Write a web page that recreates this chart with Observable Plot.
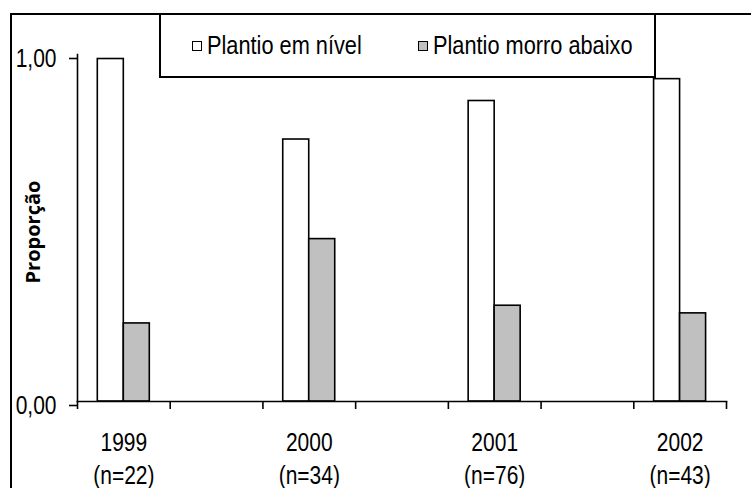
<!DOCTYPE html>
<html>
<head>
<meta charset="utf-8">
<script src="https://cdn.jsdelivr.net/npm/d3@7"></script>
<script src="https://cdn.jsdelivr.net/npm/@observablehq/plot@0.6"></script>
<style>
  html, body { margin: 0; padding: 0; background: #fff; }
  #wrap { position: relative; width: 751px; height: 488px; overflow: hidden; }
  #frame { position: absolute; left: 10px; top: 13px; width: 800px; height: 520px;
           border-left: 2px solid #000; border-top: 2px solid #000; pointer-events: none; }
  #legend { position: absolute; left: 159px; top: 13px; width: 493px; height: 61px;
            border: 2px solid #000; background: #fff; box-sizing: content-box;
            font-family: "Liberation Sans", Arial, sans-serif; font-size: 25px; }
  .item { position: absolute; top: 0; height: 61px; display: flex; align-items: center; }
  .sw { width: 8px; height: 8px; border: 1.5px solid #000; margin-right: 5px; }
  .lt { display: inline-block; transform: scaleX(0.87); transform-origin: left center; white-space: nowrap; }
  #chart { position: absolute; left: 0; top: 0; }
</style>
</head>
<body>
<div id="wrap">
  <div id="chart"></div>
  <div id="frame"></div>
  <div id="legend"></div>
</div>
<script>
const years = ["1999", "2000", "2001", "2002"];
const sampleSizes = [22, 34, 76, 43];
const plantioNivel = [0.987, 0.755, 0.866, 0.929];
const plantioMorro = [0.225, 0.468, 0.276, 0.254];
const seriesNames = ["Plantio em nível", "Plantio morro abaixo"];
const seriesFills = ["#ffffff", "#c0c0c0"];
const yTicks = [0, 1];

const data = years.map((year, i) => ({year, n: sampleSizes[i], nivel: plantioNivel[i], morro: plantioMorro[i]}));
// x domain: each year followed by an empty slot (as in the original)
const xDomain = years.flatMap((y, i) => i < years.length - 1 ? [y, "gap" + i] : [y]);

const width = 751, height = 488;
const marginLeft = 77, marginRight = 25, marginTop = 54, marginBottom = 87;
const bw = (width - marginLeft - marginRight) / xDomain.length;
const barW = 26;
const off = 20.3;

const font = '"Liberation Sans", Arial, sans-serif';
const nByYear = new Map(data.map(d => [d.year, d.n]));

const chart = Plot.plot({
  width, height, marginLeft, marginRight, marginTop, marginBottom,
  style: {fontFamily: font, fontSize: "25px", color: "#000", background: "transparent"},
  x: {type: "band", domain: xDomain, padding: 0, round: false, axis: null},
  y: {domain: [0, 1], axis: null},
  marks: [
    Plot.barY(data, {x: "year", y: "nivel", fill: seriesFills[0], stroke: "#000", strokeWidth: 1.6,
      insetLeft: off, insetRight: bw - off - barW}),
    Plot.barY(data, {x: "year", y: "morro", fill: seriesFills[1], stroke: "#000", strokeWidth: 1.6,
      insetLeft: off + barW, insetRight: bw - off - 2 * barW}),
    Plot.frame({anchor: "left", stroke: "#000", strokeWidth: 1.6}),
    Plot.frame({anchor: "bottom", stroke: "#000", strokeWidth: 1.6}),
    Plot.axisY({ticks: yTicks, tickSize: 8, tickPadding: 13, strokeWidth: 1.6, label: null,
      tickFormat: d => d.toFixed(2).replace(".", ","), dy: 4, fontSize: 25}),
    Plot.axisX({ticks: xDomain, tickSize: 8, tickFormat: () => "", dx: -bw / 2, strokeWidth: 1.6, label: null}),
    Plot.axisX({ticks: [xDomain[xDomain.length - 1]], tickSize: 8, tickFormat: () => "", dx: bw / 2, strokeWidth: 1.6, label: null}),
    Plot.axisX({ticks: years, tickSize: 0, tickPadding: 26, lineHeight: 1.32, fontSize: 25, label: null,
      tickFormat: d => `${d}\n(n=${nByYear.get(d)})`}),
    Plot.text(["Proporção"], {frameAnchor: "left", textAnchor: "middle", dx: -44, dy: 4, rotate: -90,
      fontSize: 20, fontWeight: "bold", fontFamily: '"Open Sans", sans-serif', className: "ylabel"})
  ]
});
// narrow the default sans to mimic the condensed face of the original
chart.querySelectorAll("text").forEach(el => {
  if (el.closest(".ylabel")) return;
  const t = el.getAttribute("transform");
  if (t) el.setAttribute("transform", t + " scale(0.84,1)");
  else {
    const x = +(el.getAttribute("x") || 0), y = +(el.getAttribute("y") || 0);
    el.setAttribute("transform", `translate(${x},${y}) scale(0.84,1) translate(${-x},${-y})`);
  }
});
document.getElementById("chart").appendChild(chart);

const legend = document.getElementById("legend");
const positions = [31, 257];
seriesNames.forEach((name, i) => {
  const it = document.createElement("div");
  it.className = "item";
  it.style.left = positions[i] + "px";
  const sw = document.createElement("span");
  sw.className = "sw";
  sw.style.background = seriesFills[i];
  const t = document.createElement("span");
  t.className = "lt";
  t.textContent = name;
  it.appendChild(sw); it.appendChild(t);
  legend.appendChild(it);
});
</script>
</body>
</html>
